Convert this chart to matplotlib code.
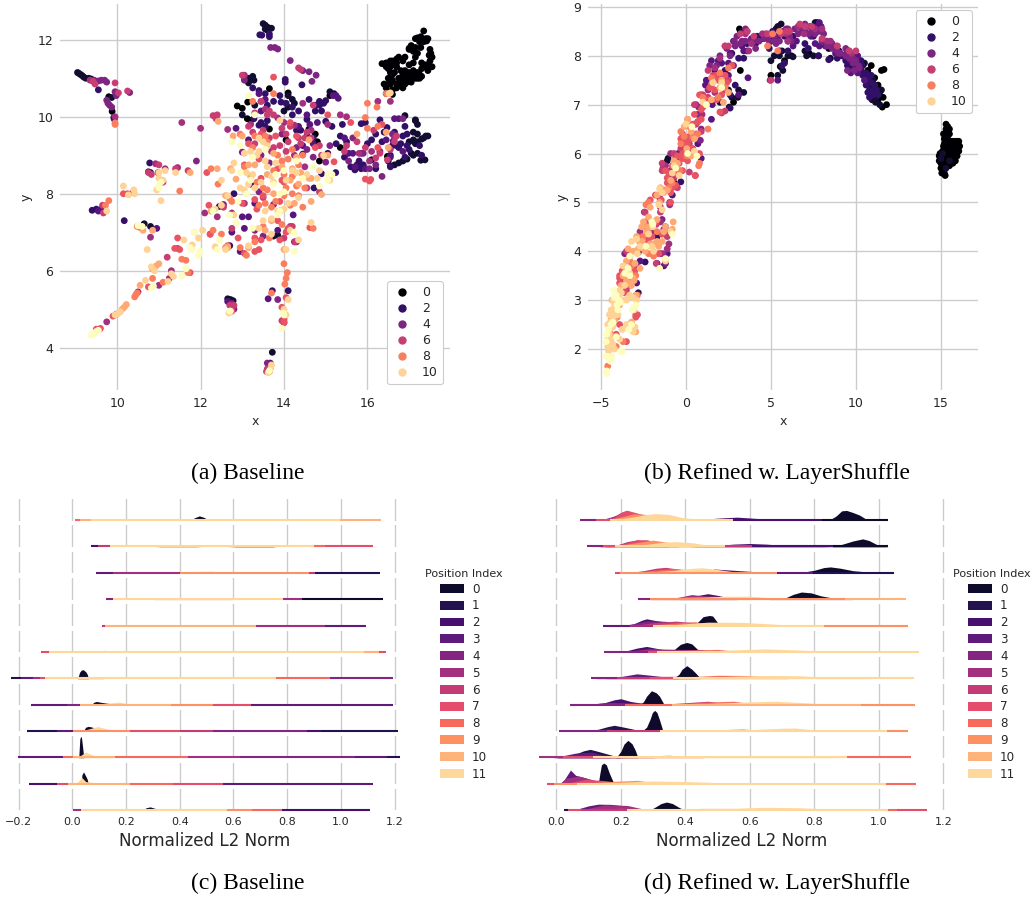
import matplotlib
matplotlib.use("Agg")
import matplotlib.pyplot as plt
from matplotlib.lines import Line2D
from matplotlib.patches import Patch

# ---------- (a) baseline scatter, points by position index ----------
a_h0 = [(17.35,12.23),(17.3,12.0),(17.4,12.03),(17.45,12.03),(17.15,12.03),(17.25,11.95),(17.35,11.95),(17.05,11.85),(17.0,11.78),(17.15,11.8),(17.28,11.8),(17.5,11.75),(17.52,11.65),(17.55,11.55),(17.5,11.45),(17.45,11.3),(17.35,11.3),(17.3,11.25),(17.2,11.15),(17.15,11.1),(17.1,11.05),(17.05,11.0),(17.0,10.95),(16.95,10.9),(16.9,10.85),(16.85,10.75),(16.6,11.45),(16.7,11.5),(16.75,11.55),(16.9,11.55),(16.45,11.4),(16.35,11.38),(16.5,11.35),(16.5,11.25),(16.55,11.15),(16.6,11.1),(16.7,11.3),(16.8,11.2),(17.0,11.35),(17.1,11.4),(16.85,11.1),(16.75,11.0),(16.6,10.95),(16.5,10.85),(16.45,10.75),(16.6,10.7),(16.7,10.85),(17.0,11.15),(17.3,11.05),(17.2,11.0),(16.85,11.0),(16.9,11.2),(17.45,11.2),(17.25,11.1),(16.6,10.58),
        (9.8,10.52),(9.88,10.14),(15.1,10.55),(14.1,10.62),(13.65,10.73),(13.13,10.38),(12.88,10.28),(13.0,10.22),(13.12,9.95),(13.2,9.9),(13.65,9.68),(14.05,9.4),(14.6,9.68),(14.55,9.5),(14.8,9.35),(14.75,9.55),(15.35,9.2),(16.1,8.88),(16.48,8.97),(17.15,9.9),(14.85,8.85),
        (17.2,12.05),(17.28,12.08),(17.42,11.97),(17.48,11.6),(17.55,11.3),(17.4,11.35),(17.3,11.4),(17.25,11.0),(17.0,11.05),(16.95,11.0),(17.15,11.0),(17.05,10.9),(16.95,11.1),(16.8,10.95),(16.7,10.75),(16.65,11.15),(16.6,11.35),(16.55,11.45),(16.55,11.3),(16.45,11.3),(16.7,11.4),(16.85,11.45),(16.5,11.0),(16.55,10.85),(16.4,10.85),(16.75,10.85),(16.9,10.95),(17.1,11.2),(17.15,11.55),(17.0,11.75),(17.1,11.7),(17.2,11.65)]
a_h1 = [(9.05,11.15),(9.08,11.13),(9.12,11.1),(9.16,11.07),(9.2,11.03),(9.25,11.0),(9.32,11.0),(9.38,10.98),(9.87,10.5),(13.5,12.42),(13.55,12.38),(13.6,12.33),(13.65,12.3),(13.7,12.3),(13.55,12.28),(13.6,12.25),(13.25,11.05),(13.15,11.0),(13.1,10.95),(13.15,10.88),(13.28,10.95),(14.1,10.55),(14.2,10.45),(14.25,10.35),(14.1,10.25),(14.0,10.15),(13.3,10.3),(13.0,10.05),(16.9,10.03),(17.2,9.8),(17.15,9.92),(17.4,9.5),(17.35,9.45),(17.3,9.42),(17.45,9.5),(17.2,9.35),(17.1,9.4),(17.0,9.35),(17.15,9.3),(17.2,9.55),(17.1,9.6),(17.28,8.87),(17.38,8.88),(17.2,9.05),(17.1,9.0),(17.05,9.05),(16.95,8.9),(16.85,8.85),(16.75,8.8),(16.65,8.75),(16.55,8.72),(16.5,8.85),(13.75,6.9),(13.85,6.92),(12.65,5.27),(12.72,5.25),(12.78,5.22),(13.72,3.88),(10.65,7.22),(10.8,7.15),(15.1,10.65),(15.2,10.6)]
a_h2 = [(9.55,10.7),(9.92,9.98),(9.93,9.94),(13.42,12.13),(13.47,12.12),(13.65,12.15),(13.65,12.08),(14.43,10.83),(14.03,10.97),(14.03,10.9),(13.25,10.75),(13.4,10.68),(13.55,10.6),(13.75,10.4),(13.6,10.3),(13.93,10.38),(14.2,10.25),(14.35,10.15),(13.28,9.95),(13.4,9.78),(13.55,9.75),(14.3,9.65),(14.55,9.93),(14.85,10.3),(15.0,10.42),(14.95,10.35),(14.6,10.45),(14.75,10.3),(14.9,10.15),(15.0,9.88),(15.35,9.5),(15.25,9.3),(15.05,9.05),(15.95,9.85),(15.85,9.82),(16.3,9.92),(16.47,9.72),(16.6,9.25),(16.55,9.0),(16.7,9.25),(16.9,9.75),(16.55,8.7),(15.75,8.75),(15.7,8.62),(15.6,8.7),(15.24,8.55),(14.45,9.03),(14.9,8.52),(14.72,8.15),(13.2,8.25),(12.8,8.0),(12.45,7.67),(10.78,8.8),(10.75,8.57),(10.8,8.55),(10.17,7.3),(12.7,6.65),(9.4,7.57),(9.5,7.6),(13.72,5.48),(14.1,5.48),(16.2,8.65),(16.4,9.6),
        (13.9,10.55),(14.05,10.35),(14.2,10.05),(14.75,10.15),(14.85,10.4),(14.4,9.65),(14.7,9.45),(15.15,9.75),(15.5,9.35),(15.4,9.8),(13.45,9.85),(13.6,9.9),(16.95,9.25),(16.8,9.3),(16.85,9.5),(16.95,9.55),
        (16.65,9.6),(16.75,9.2),(16.9,8.95),(17.0,9.15),(17.25,9.25),(17.3,9.0),(16.35,9.35),(16.2,9.55),(16.0,9.3),(16.1,9.4),(15.8,8.85),(15.85,8.65),(15.9,8.75),(15.45,8.95)]
a_h3 = [(13.05,10.98),(15.25,10.55),(15.3,10.48),(15.18,10.55),(14.55,10.05),(14.62,9.8),(14.8,9.85),(13.4,10.6),(13.55,10.45),(13.45,10.15),(13.42,9.45),(13.15,9.4),(12.85,9.7),(14.35,9.75),(14.7,9.3),(14.45,9.25),(15.45,9.45),(15.55,9.05),(15.65,9.05),(15.85,9.05),(16.45,9.4),(16.62,9.37),(16.85,9.1),(15.7,8.7),(15.95,8.65),(16.55,8.95),(10.95,7.1),(12.95,6.5),(13.0,7.4),(13.15,7.4),(13.05,7.1),(13.3,7.75),(12.75,7.0),(12.65,5.2),(12.78,5.05),(9.62,7.6),(9.55,7.55),(13.67,3.6),(13.62,5.27),(14.22,7.45),(14.3,6.75),(13.85,7.05),(16.75,9.95),(16.65,9.95)]
a_h4 = [(9.45,10.95),(9.55,10.93),(9.62,10.95),(9.7,10.95),(9.75,10.9),(10.3,10.63),(9.75,10.43),(9.78,10.35),(9.82,10.3),(9.87,10.25),(9.95,10.65),(9.98,10.55),(13.68,11.8),(13.78,11.8),(13.85,11.76),(14.15,11.46),(14.45,11.2),(14.6,11.17),(14.77,11.08),(14.67,10.92),(13.05,10.95),(13.45,9.0),(13.0,9.08),(13.95,9.55),(13.65,8.8),(14.3,9.2),(14.55,9.15),(14.7,8.95),(15.0,8.82),(15.55,8.85),(16.05,8.65),(11.9,8.85),(12.55,7.72),(13.3,7.05),(13.5,6.9),(13.85,5.25),(14.0,4.65),(13.6,3.6),(16.35,8.45),(15.9,9.05),(15.1,9.25),(15.65,9.45),(13.4,8.05),(12.8,5.0),(12.75,5.15),(13.75,7.72),(14.25,6.75),(16.3,9.1),(16.85,9.95),(16.6,9.55),(16.2,8.75)]
a_h5 = [(9.35,10.95),(9.95,10.0),(13.05,11.08),(13.45,10.4),(13.55,10.2),(13.85,9.97),(14.0,9.85),(14.25,9.78),(14.45,10.35),(14.65,9.65),(14.25,9.0),(14.5,8.7),(13.7,9.1),(13.2,9.8),(15.05,9.8),(15.35,10.05),(15.5,10.0),(16.25,10.4),(16.45,10.6),(16.55,10.4),(16.65,9.45),(15.8,9.05),(16.1,9.1),(16.05,8.85),(12.4,7.4),(12.75,7.5),(14.15,7.15),(12.1,7.5),(11.0,5.62),(11.25,5.8),(11.3,6.0),(10.5,5.45),(9.75,4.67),(11.55,9.85),(12.0,9.7),(12.65,9.67),(10.92,8.78),(10.98,8.55),(11.15,8.65),(11.45,8.68),(10.8,6.87),(13.05,7.75)]
a_h6 = [(9.95,10.88),(9.42,10.92),(9.47,10.85),(10.03,10.62),(10.25,10.67),(14.35,11.27),(14.4,11.23),(13.0,11.08),(12.3,10.03),(12.4,10.05),(12.37,9.95),(13.45,10.4),(13.3,10.1),(13.65,10.15),(13.75,10.05),(14.15,9.75),(14.7,10.3),(14.55,9.6),(14.1,9.35),(14.4,9.3),(13.95,9.7),(13.65,9.45),(13.3,9.3),(13.75,9.2),(14.05,9.1),(15.45,9.1),(15.75,9.35),(16.2,8.93),(16.15,9.65),(16.65,9.35),(16.7,9.5),(11.4,8.65),(11.7,8.6),(10.75,8.55),(10.82,8.5),(11.0,8.75),(11.1,8.3),(10.38,8.03),(12.55,7.65),(12.75,7.1),(13.5,7.9),(13.9,7.55),(14.2,7.15),(14.0,6.85),(14.27,6.75),(12.23,6.95),(11.2,6.35),(11.45,6.58),(9.67,7.5),(9.65,7.7),(14.0,4.75),(13.95,4.7),(12.8,5.1),(12.7,5.1),(13.6,3.45),(13.58,3.38),(16.48,8.88),(14.55,8.15),(14.85,8.05),
        (13.15,9.75),(13.6,10.05),(14.05,9.55),(14.35,9.45),(14.5,9.45),(14.65,9.45),(14.85,9.25),(14.9,9.0),(15.5,9.25),(15.95,9.2),(16.3,9.05),(16.55,9.15),(13.9,9.25),(13.5,9.65),(13.25,9.6)]
a_h7 = [(13.75,11.03),(15.05,10.05),(14.15,9.85),(13.8,9.5),(14.3,9.5),(13.45,9.55),(13.15,9.3),(15.6,9.85),(16.25,9.2),(15.2,8.83),(15.95,8.38),(16.05,8.33),(16.08,8.37),(12.15,8.55),(11.38,6.58),(11.5,6.55),(11.45,6.85),(13.4,8.9),(13.05,8.75),(13.85,8.65),(13.95,8.35),(14.0,8.3),(13.45,8.4),(13.5,7.95),(13.9,7.8),(13.85,7.3),(14.1,7.1),(13.3,7.85),(13.0,7.75),(13.35,7.6),(12.2,7.7),(12.23,6.95),(12.65,6.65),(12.9,6.85),(13.3,6.85),(13.45,6.8),(13.9,6.8),(14.05,7.0),(13.05,6.45),(13.3,6.5),(13.4,6.55),(10.15,8.0),(10.25,8.0),(9.5,4.48),(9.56,4.47),(9.6,4.5),(9.9,4.82),(9.98,4.87),(10.75,5.58),(11.75,5.95),(13.95,5.05),(14.0,4.65),(14.0,4.7),(14.05,5.3),(12.75,4.95),(14.62,7.12),(16.35,9.8),(14.75,9.2),(13.65,3.38)]
a_h8 = [(9.95,9.84),(9.95,9.8),(13.75,10.6),(16.0,10.35),(16.45,10.6),(16.23,10.25),(15.95,9.98),(16.0,9.7),(16.25,9.75),(13.25,10.4),(12.95,9.55),(13.3,9.5),(13.55,9.5),(14.2,9.15),(14.45,9.0),(13.05,8.7),(12.25,8.65),(12.42,8.25),(12.7,7.88),(12.75,7.8),(11.5,8.07),(10.48,7.15),(10.55,7.12),(14.45,7.65),(14.7,7.1),(13.5,8.15),(13.8,7.8),(14.15,7.7),(14.2,8.0),(14.35,7.95),(14.05,8.15),(13.1,6.4),(12.6,6.6),(12.65,6.6),(9.72,7.7),(9.8,7.82),(10.42,5.32),(10.45,5.38),(10.48,5.42),(10.85,5.8),(11.1,5.7),(11.55,6.3),(11.65,6.27),(11.7,5.95),(14.0,6.18),(14.08,5.95),(14.05,5.8),(14.02,5.65),(13.7,5.42),(14.2,8.45),(14.0,8.5),(13.75,8.6),(13.35,8.3),(13.55,7.75),
        (13.25,9.2),(13.6,9.35),(13.85,9.0),(14.1,8.9),(14.35,8.75),(14.5,8.15),(13.95,8.85),(13.6,8.1),(13.4,7.7),(13.7,7.65),(13.95,7.2),(13.5,7.15),(13.65,6.85),(13.3,6.75),(12.95,6.6),(12.5,6.95),(12.3,7.05),(14.3,8.2),(14.0,7.95)]
a_h9 = [(12.42,9.88),(12.78,9.5),(13.0,9.5),(13.15,8.75),(13.3,8.75),(14.6,9.4),(14.3,8.95),(13.75,9.05),(14.2,8.65),(14.4,8.55),(14.6,8.4),(14.9,7.98),(13.6,8.5),(12.85,8.38),(12.72,8.65),(12.4,8.65),(11.75,8.55),(12.6,7.95),(12.25,7.55),(14.25,7.75),(14.65,7.8),(14.0,6.55),(13.15,6.6),(12.65,6.62),(13.7,7.3),(13.55,7.05),(13.2,8.45),(10.12,5.0),(10.17,5.05),(10.22,5.12),(10.55,5.62),(10.84,6.05),(10.93,6.12),(11.0,6.18),(10.62,7.05),(10.85,7.05),(13.75,8.0),(13.95,8.7),(14.15,8.35),(16.45,9.6),(16.5,9.2),(15.75,9.55),(15.05,9.0),(14.65,8.4),(14.35,8.25)]
a_h10 = [(16.52,10.6),(16.55,10.62),(13.9,9.9),(13.4,9.45),(13.5,9.35),(13.6,9.25),(13.2,9.1),(13.05,9.05),(13.35,9.0),(13.6,8.7),(13.75,8.3),(14.05,8.35),(13.45,8.3),(13.1,8.55),(13.25,8.5),(12.75,8.6),(12.8,8.8),(12.5,8.35),(11.05,7.82),(10.15,8.2),(10.4,8.1),(10.42,8.0),(10.27,7.97),(9.75,7.55),(10.72,6.55),(11.0,8.55),(11.0,8.4),(11.15,8.6),(11.4,8.55),(12.35,7.6),(12.65,7.95),(12.8,7.45),(13.05,8.1),(13.55,7.55),(13.7,7.35),(13.85,7.55),(14.1,7.75),(14.15,7.05),(14.35,6.8),(14.05,6.55),(13.15,6.65),(12.6,6.55),(12.35,6.62),(11.95,6.85),(12.05,7.05),(11.85,7.0),(11.6,6.8),(11.8,6.67),(10.68,5.75),(10.82,6.1),(10.9,6.0),(11.22,5.72),(11.3,5.92),(11.35,5.85),(10.02,4.88),(10.08,4.93),(9.95,4.85),(14.1,5.25),(14.0,5.0),(14.05,4.85),(13.7,3.55),(13.62,3.35),(13.68,3.45),(12.72,4.95),(12.68,4.9),(14.65,7.25),(14.8,8.4),(15.1,8.35),(14.2,8.6),(14.95,9.0),
         (13.4,9.1),(13.55,8.85),(13.8,8.8),(13.15,8.25),(13.3,8.15),(14.0,7.6),(13.5,7.3),(13.4,7.1),(13.7,6.95),(14.3,8.55),(14.55,8.5),(14.85,8.6),(13.7,8.45),(12.95,8.15),(12.5,7.7),(14.35,7.9),(11.1,8.35),(10.95,8.1)]
a_h11 = [(9.38,4.32),(9.42,4.35),(9.46,4.38),(9.5,4.42),(9.55,4.45),(13.15,10.55),(13.3,10.05),(12.75,9.35),(12.95,9.25),(13.25,8.95),(13.55,9.15),(14.3,8.85),(14.7,8.7),(14.0,8.6),(13.8,8.5),(13.75,8.25),(14.0,8.05),(13.9,8.0),(13.2,8.35),(12.95,8.55),(14.45,8.4),(15.05,8.5),(15.15,8.5),(15.05,8.35),(11.0,8.2),(11.05,8.3),(11.0,8.15),(10.5,7.17),(10.6,7.15),(12.7,7.45),(12.3,7.55),(12.85,7.25),(12.9,7.8),(13.1,8.0),(11.85,7.0),(12.0,6.5),(11.95,6.4),(11.8,6.55),(12.4,6.55),(12.45,6.8),(13.25,7.1),(13.85,7.45),(13.9,7.55),(14.25,7.0),(14.25,6.5),(10.82,5.55),(10.87,5.6),(11.55,5.87),(11.65,6.05),(11.75,6.6),(13.95,4.5),(14.0,4.85),(13.98,4.9),(13.65,3.4),(12.7,4.95),(14.85,8.2)]

# ---------- (b) refined scatter, points by position index ----------
b_h0 = [(15.3,6.6),(15.4,6.55),(15.5,6.5),(15.25,6.4),(15.3,6.3),(15.2,6.2),(15.2,6.1),(15.15,6.0),(15.1,5.9),(15.0,5.9),(15.0,5.8),(15.05,5.7),(15.1,5.6),(15.2,5.6),(15.25,5.7),(15.3,5.8),(15.4,5.9),(15.5,6.0),(15.7,6.2),(15.8,6.25),(15.9,6.2),(16.0,6.2),(15.95,6.1),(15.9,6.0),(15.7,5.9),(15.6,5.85),(15.35,6.0),(15.25,5.95),(15.4,6.3),(15.5,6.4),(15.6,6.15),(15.15,6.4),(15.3,6.15),(15.1,5.75),(14.95,6.0),(15.25,5.55),(15.8,6.05),
        (15.35,6.45),(15.45,6.45),(15.3,6.5),(15.35,6.2),(15.25,6.25),(15.2,6.3),(15.15,6.15),(15.1,6.05),(15.05,5.95),(15.1,5.8),(15.15,5.7),(15.2,5.75),(15.15,5.85),(15.25,5.85),(15.35,5.9),(15.45,5.95),(15.55,6.05),(15.6,6.1),(15.65,6.25),(15.75,6.15),(15.85,6.1),(15.95,6.25),(16.0,6.1),(15.8,5.95),(15.75,6.0),(15.65,5.95),(15.5,5.9),(15.4,6.05),(15.3,6.05),(15.2,5.95),(15.15,5.65),(15.0,5.7),(15.05,5.6),
        (16.05,6.25),(16.1,6.15),(16.05,6.05),(15.95,5.95),(15.85,5.85),(15.7,5.8),(15.5,5.75),(14.9,5.85),(14.9,5.95),
        (3.15,8.55),(3.2,8.5),(5.0,8.3),(2.8,7.05),(3.2,7.7),(5.0,7.6),(5.55,7.78),(5.8,7.9),(6.2,8.0),(7.2,8.03),(7.25,8.05),(8.4,8.15),(9.2,8.0),(9.4,8.0),(10.2,7.9),(10.4,7.8),(10.7,7.7),(11.5,7.7),(11.65,7.72),(10.9,7.8),(11.1,7.55),(11.3,7.4),(11.6,7.15),(11.8,7.0),(11.55,6.95),(11.3,7.1),(-1.0,4.36),(-0.7,5.4)]
b_h1 = [(3.3,8.5),(4.3,8.35),(4.5,8.35),(5.3,8.55),(5.4,8.6),(5.6,8.65),(7.6,8.68),(7.7,8.68),(5.2,8.0),(5.5,8.0),(5.65,8.1),(6.0,8.0),(6.3,7.98),(5.0,7.9),(5.7,7.7),(5.4,7.6),(7.0,8.1),(7.1,8.0),(7.5,8.0),(7.8,8.0),(8.5,7.95),(9.0,8.1),(9.3,8.0),(9.8,8.05),(9.95,8.0),(10.1,7.7),(10.5,7.85),(10.8,7.4),(11.0,7.3),(11.1,7.2),(11.2,7.15),(11.4,7.25),(11.5,7.3),(11.15,7.05),(10.8,7.6),(11.0,7.5),(10.95,7.1),(11.4,7.0),(2.5,7.3),(2.7,7.15),(3.05,7.15),(3.4,7.25),(3.1,7.3),(2.0,7.05),(2.55,6.95),(-1.05,5.9),(-1.1,5.85),(15.0,5.9),(15.1,6.0),(15.5,5.85),(15.3,5.7)]
b_h2 = [(2.8,8.3),(1.7,7.7),(2.7,8.05),(2.3,7.7),(3.1,7.95),(3.4,7.95),(3.6,8.25),(4.1,8.25),(4.2,8.4),(5.1,8.5),(5.8,8.4),(6.3,8.4),(6.0,8.3),(7.5,8.4),(8.0,8.5),(8.2,8.3),(7.8,8.0),(7.2,8.15),(7.0,8.25),(6.0,8.1),(5.5,8.1),(5.8,7.85),(5.65,7.8),(4.9,8.15),(9.5,7.8),(9.7,7.75),(10.0,7.8),(10.35,7.8),(10.7,7.25),(10.8,7.15),(11.1,7.4),(10.9,7.6),(10.6,7.5),(2.3,7.5),(2.6,7.2),(2.9,7.4),(2.6,6.93),(1.75,7.65),(1.5,7.05),(-0.3,5.42),(-2.8,3.15),(-2.8,3.98),(-2.4,3.78),(-1.7,4.3),(8.4,7.92),
        (10.4,7.6),(10.6,7.4),(10.8,7.3),(10.9,7.45),(11.0,7.2),(11.2,7.3),(11.3,7.2),(11.1,7.3),(10.7,7.55),(10.6,7.65),(10.3,7.7),(9.2,8.0),(8.9,7.95),(8.9,8.1),(9.4,7.9),(9.6,7.9),(10.3,7.9),(10.2,7.85)]
b_h3 = [(3.3,8.2),(3.4,8.1),(2.6,8.05),(2.5,7.85),(2.1,7.85),(1.9,7.9),(1.5,7.9),(1.2,7.5),(1.15,7.4),(0.9,7.2),(1.55,7.0),(1.1,7.05),(2.5,7.6),(3.65,7.55),(3.1,7.2),(3.6,8.1),(3.85,8.35),(4.6,8.4),(5.4,8.4),(6.5,8.3),(7.35,8.4),(7.85,8.68),(7.7,8.6),(7.95,8.6),(8.2,8.2),(8.7,8.2),(8.8,8.05),(9.5,8.1),(9.7,7.9),(10.1,8.0),(9.7,7.65),(10.1,7.65),(10.5,7.5),(6.3,8.2),(5.4,7.5),(7.6,8.25),(7.85,8.2),(-1.7,3.75),(-1.3,3.7),(-1.1,3.95),(-2.7,3.8),(-2.9,3.35),(-0.45,6.0),(1.5,6.7),(0.7,6.2),(0.9,5.9),(-0.8,5.15)]
b_h4 = [(3.5,8.55),(2.85,8.3),(1.4,7.8),(1.8,7.8),(2.4,8.15),(2.0,8.0),(3.0,8.4),(3.3,8.3),(3.6,8.5),(4.1,8.15),(4.8,8.4),(5.2,8.3),(5.3,8.25),(6.0,8.55),(6.4,8.55),(6.8,8.55),(7.0,8.65),(7.4,8.55),(7.6,8.45),(8.1,8.45),(8.6,8.25),(9.0,8.05),(9.4,8.15),(9.8,7.95),(10.15,7.8),(9.5,7.7),(9.85,7.85),(5.9,8.55),(4.95,7.5),(1.0,6.97),(0.75,6.95),(1.1,7.0),(2.0,7.55),(2.8,7.8),(0.9,6.5),(0.7,6.8),(0.85,6.27),(-0.8,5.55),(-1.3,5.7),(-1.0,5.5),(-0.55,5.85),(-1.9,4.4),(-1.5,3.95),(-1.2,3.75),(-3.6,3.95),(-3.4,3.4),(-1.4,4.65),(-1.2,4.5),(-0.95,5.0),(7.3,8.6),
        (2.6,8.0),(2.9,8.2),(3.2,8.25),(3.5,8.3),(3.8,8.3),(4.0,8.3),(4.3,8.3),(4.6,8.35),(4.9,8.3),(5.2,8.4),(5.5,8.3),(5.7,8.5),(6.1,8.4),(6.2,8.3),(6.6,8.45),(7.0,8.5),(7.2,8.45),(7.5,8.5),(7.8,8.5),(8.0,8.3),(8.3,8.2),(8.6,8.15),(8.9,8.1),(9.1,8.05),(9.4,8.0),(9.6,7.95),(10.0,7.9),(10.2,7.75),(9.9,7.7)]
b_h5 = [(2.3,8.2),(1.7,7.75),(2.0,7.95),(1.3,7.3),(1.7,7.25),(3.5,8.45),(3.7,8.1),(3.85,8.25),(4.5,8.45),(4.7,8.45),(5.9,8.45),(6.0,8.3),(6.6,8.6),(7.1,8.6),(6.95,8.45),(8.0,8.55),(8.3,8.3),(8.5,8.3),(8.9,8.2),(9.6,8.1),(9.75,8.05),(7.6,8.55),(0.6,7.0),(0.7,6.65),(0.95,6.8),(0.5,6.6),(-0.9,6.0),(-1.2,5.75),(-0.6,5.9),(-1.35,5.7),(-0.1,5.9),(-0.9,5.65),(0.2,6.3),(-1.55,5.1),(-1.5,4.9),(-1.5,4.6),(-1.3,4.45),(-2.45,4.8),(-2.3,4.55),(-2.7,4.4),(-2.9,3.7),(-3.6,3.35),(-1.35,3.95),(-1.0,4.15),(-1.1,4.05),(-0.95,4.95)]
b_h6 = [(2.3,8.2),(2.5,8.2),(3.2,8.45),(3.6,8.5),(4.0,8.4),(4.8,8.45),(5.6,8.45),(5.9,8.5),(6.1,8.5),(7.0,8.6),(7.4,8.6),(6.7,8.65),(8.0,8.35),(8.9,8.2),(9.6,8.1),(10.0,8.1),(1.3,7.7),(1.6,7.6),(2.1,7.55),(2.5,7.5),(2.3,7.3),(1.3,7.15),(1.0,7.2),(2.1,6.83),(2.3,6.87),(0.5,7.0),(0.6,6.6),(0.2,6.2),(-0.3,6.1),(-0.7,6.0),(0.4,6.1),(0.2,5.62),(0.55,5.55),(-0.5,5.3),(-0.7,5.5),(-1.4,5.65),(-1.4,5.8),(-1.6,5.15),(-1.5,4.8),(-2.4,4.8),(-1.75,4.55),(-1.1,4.3),(-2.3,4.3),(-3.5,4.0),(-1.75,3.75),(-3.7,3.4),(-3.5,3.2),(5.0,7.5),(0.9,6.45)]
b_h7 = [(2.3,7.6),(1.8,7.6),(2.7,7.8),(1.4,7.35),(0.8,7.2),(1.0,6.95),(2.0,6.85),(0.7,6.65),(0.2,6.35),(-0.1,6.2),(0.1,6.05),(0.3,6.1),(0.8,6.0),(-0.5,5.95),(-1.2,5.65),(-0.7,5.75),(-0.2,5.65),(0.55,5.55),(-0.6,5.35),(-0.9,5.0),(-1.45,5.05),(-1.8,5.15),(-2.1,5.05),(-1.75,4.6),(-2.4,4.6),(-1.4,4.35),(-2.0,4.3),(-2.6,4.3),(-2.2,4.2),(-1.6,3.95),(-3.3,3.9),(-3.75,3.6),(-3.9,3.45),(-3.0,3.6),(-3.3,3.3),(-3.6,3.15),(-3.9,3.5),(-3.9,3.35),(-4.2,2.8),(-3.9,2.5),(-3.1,2.45),(-2.95,2.7),(-2.85,2.7),(-3.5,2.15),(-4.4,2.05),(-4.1,2.3),(-2.95,2.65),
        (1.5,7.4),(1.7,7.3),(1.9,7.5),(2.2,7.4),(2.4,7.45),(2.1,7.2),(1.8,7.1),(1.3,7.1),(0.9,6.9),(0.9,6.7),(0.5,6.8),(0.6,6.4),(0.3,6.3),(0.0,6.3),(-0.2,6.4),(-0.3,6.3),(0.4,6.6),(0.1,6.2),(-0.2,6.0),(0.1,5.85),(-0.4,5.8),(-0.2,5.9),(-0.6,5.6),(-0.8,5.75),(-1.0,5.6),(-1.1,5.5),(-1.1,5.4),(-0.8,5.3),(-0.9,5.2)]
b_h8 = [(4.8,8.2),(5.4,8.1),(5.1,8.45),(5.5,8.5),(2.5,7.75),(1.5,7.55),(1.55,7.45),(2.0,7.65),(2.3,7.35),(1.9,7.15),(1.0,7.15),(0.1,6.7),(-0.3,6.45),(-0.1,6.35),(0.2,6.55),(0.4,6.35),(0.7,6.4),(-0.3,6.2),(0.05,5.95),(0.8,5.8),(0.75,5.75),(1.3,6.5),(-0.35,5.65),(-0.8,5.4),(-1.0,5.3),(-1.25,5.25),(-2.2,5.0),(-2.35,4.95),(-1.7,4.4),(-2.4,4.5),(-2.5,4.3),(-2.2,4.4),(-2.2,3.95),(-2.0,3.95),(-1.9,3.9),(-3.4,3.6),(-3.3,3.8),(-2.95,3.5),(-3.2,3.7),(-2.85,3.1),(-4.2,2.75),(-4.3,2.6),(-4.05,2.65),(-3.35,2.45),(-3.7,2.15),(-4.6,1.65),(-4.1,2.05),(-4.4,2.3)]
b_h9 = [(2.1,7.5),(2.0,7.35),(1.5,7.1),(2.2,7.05),(2.5,7.25),(0.5,6.3),(-0.1,6.55),(0.1,6.7),(0.3,6.45),(0.3,5.95),(0.05,6.1),(-0.5,5.8),(-0.7,5.85),(-0.9,5.45),(-1.1,5.25),(-0.75,4.6),(-1.55,5.0),(-1.7,4.65),(-2.2,4.5),(-2.6,4.5),(-2.3,4.1),(-1.9,4.15),(-3.4,4.05),(-3.5,3.8),(-2.9,4.3),(-2.75,4.2),(-3.35,3.35),(-3.05,3.4),(-2.95,2.35),(-4.4,2.6),(-4.5,2.4),(-4.2,2.6),(-4.35,3.0),(-3.2,2.55),(-3.9,2.9),(-2.95,3.1),(-0.8,4.45),(-1.2,4.5),
        (-1.3,5.2),(-1.5,5.3),(-1.7,5.15),(-2.1,4.9),(-2.2,4.7),(-2.0,4.5),(-1.9,4.6),(-2.5,4.6),(-2.3,4.4),(-2.6,4.2),(-2.4,4.0),(-2.1,4.15),(-1.7,4.2),(-1.6,4.1),(-1.4,4.2),(-1.3,4.4),(-2.8,4.05),(-3.1,4.0),(-3.0,3.75),(-2.7,3.65),(-3.5,3.6),(-3.7,3.5),(-3.1,3.45),(-3.2,3.3),(-3.5,3.4),(-3.8,3.3)]
b_h10 = [(2.1,7.45),(1.2,7.0),(1.0,7.05),(1.6,7.45),(0.0,6.6),(0.5,6.05),(-0.7,5.75),(-0.4,5.55),(-0.8,5.6),(-1.55,5.28),(-1.4,5.2),(-1.6,4.95),(-1.4,4.85),(-0.9,4.4),(-1.2,3.8),(-2.0,4.1),(-1.9,4.0),(-2.2,4.35),(-2.9,4.25),(-2.7,4.1),(-3.2,4.2),(-2.85,3.95),(-3.7,3.7),(-3.3,3.55),(-4.1,2.85),(-3.95,3.05),(-4.3,2.65),(-3.8,3.15),(-4.45,2.55),(-4.3,2.45),(-3.25,2.5),(-3.05,2.8),(-4.6,2.2),(-3.6,3.3),(-3.1,3.05),(-2.9,3.0),(-1.95,4.5),
         (-4.3,3.0),(-4.2,2.9),(-4.4,2.8),(-4.3,2.75),(-4.15,2.7),(-4.0,2.7),(-4.5,2.7),(-4.6,2.5),(-4.5,2.3),(-4.4,2.2),(-4.5,2.05),(-4.3,2.1),(-4.2,2.0),(-4.6,2.05),(-4.55,1.95),(-3.9,2.2),(-3.75,2.4),(-3.5,2.5),(-3.1,2.35),(-3.0,2.45),(-3.9,3.2),(-3.7,3.0),(-3.5,3.0),(-3.4,3.05),(-3.3,3.1)]
b_h11 = [(-4.65,1.5),(-4.65,1.55),(-4.7,1.85),(-4.6,1.85),(-4.5,1.8),(-4.45,1.75),(-4.35,1.85),(-3.75,1.95),(-3.85,1.95),(-4.7,2.15),(-4.65,2.3),(-4.55,2.4),(-4.4,2.5),(-4.3,2.55),(-4.1,2.25),(-3.35,2.4),(-3.2,2.5),(-3.05,2.85),(-2.95,2.9),(-3.15,2.8),(-4.25,3.2),(-4.1,3.1),(-3.95,3.0),(-4.2,3.05),(-4.05,2.9),(-3.85,2.95),(-4.0,2.8),(-3.6,3.55),(-3.3,3.5),(-3.4,3.65),(-3.3,3.9),(-1.55,3.65),(-1.2,3.85),(-0.8,4.35),(0.65,5.95),(0.1,6.0),(-0.6,5.7),(0.35,6.55),(1.2,7.0),(2.1,7.35),(-2.0,4.6),(-2.35,4.1),(-1.95,4.55)]

# ---------- (c) baseline ridges ----------
c_breaks = [
    [0.01,0.03,0.068,0.998,1.149],
    [0.07,0.097,0.14,0.90,0.94,1.12],
    [0.09,0.153,0.40,0.69,0.88,0.905,1.145],
    [0.125,0.153,0.786,0.855,1.157],
    [0.11,0.123,0.684,0.94,1.092],
    [-0.115,-0.085,1.087,1.143,1.169],
    [-0.228,-0.19,-0.145,-0.12,-0.103,0.759,0.958,1.194],
    [-0.154,-0.02,0.029,0.366,0.522,0.665,1.194],
    [-0.17,-0.058,0.004,0.215,0.40,0.525,0.873,0.925,1.211],
    [-0.201,-0.034,0.004,0.16,0.432,0.625,1.053,1.17,1.219],
    [-0.16,-0.058,-0.015,0.215,0.376,0.56,1.119],
    [0.004,0.031,0.575,0.668,0.78,1.109],
]
c_hues = [
    [8,10,11,10],
    [2,6,11,8,7],
    [3,5,9,9,6,1],
    [4,11,5,0],
    [6,10,5,3],
    [7,11,10,7],
    [1,3,5,7,11,8,4],
    [3,4,10,9,7,3],
    [1,3,9,7,6,4,2,1],
    [3,8,10,8,5,4,3,1],
    [2,7,10,8,7,3],
    [5,11,9,8,2],
]
c_row0 = [(5,[0.18,0.3,0.45],[0,0.05,0]),(0,[0.44,0.455,0.473,0.49,0.51],[0,0.13,0.22,0.15,0]),(6,[0.55,0.6,0.67],[0,0.06,0]),(11,[0.07,0.3,0.67,1.0],[0,0.02,0.02,0])]
c_row1 = [(3,[0.58,0.7,0.76],[0,0.07,0]),(7,[0.31,0.4,0.48],[0,0.08,0])]
c_row2 = [(11,[0.3,0.45,0.52,0.6],[0,0.08,0.1,0])]
c_row3 = [(6,[0.3,0.42,0.5,0.6],[0,0.05,0.05,0]),(11,[0.33,0.45,0.64],[0,0.03,0])]
c_row4 = [(4,[0.28,0.4,0.48],[0,0.06,0]),(11,[0.3,0.4,0.5],[0,0.03,0])]
c_row5 = [(3,[0.0,0.12,0.2],[0,0.09,0]),(11,[0.08,0.25,0.4],[0,0.04,0])]
c_row6 = [(0,[0.02,0.027,0.033,0.04,0.05,0.056,0.06],[0,0.3,0.4,0.43,0.33,0.2,0]),(7,[0.02,0.06,0.12],[0,0.08,0])]
c_row7 = [(0,[0.07,0.08,0.09,0.11,0.14,0.16],[0,0.13,0.17,0.12,0.07,0]),(11,[0.03,0.1,0.15,0.175,0.2,0.22],[0,0.05,0.11,0.14,0.08,0])]
c_row8 = [(0,[0.04,0.05,0.06,0.075,0.09],[0,0.2,0.24,0.2,0]),(3,[0.09,0.15,0.2],[0,0.06,0]),(11,[0.0,0.05,0.08,0.095,0.11,0.14,0.2],[0,0.08,0.18,0.23,0.18,0.08,0])]
c_row9 = [(0,[0.024,0.028,0.031,0.034,0.038,0.043],[0,0.9,1.0,0.98,0.55,0]),(11,[0.0,0.03,0.05,0.065,0.09,0.16],[0,0.1,0.27,0.18,0.07,0])]
c_row10 = [(0,[0.032,0.036,0.042,0.05,0.055,0.06],[0,0.45,0.58,0.38,0.25,0]),(11,[-0.02,0.02,0.035,0.05,0.09,0.2],[0,0.1,0.32,0.12,0.05,0])]
c_row11 = [(0,[0.26,0.275,0.29,0.31,0.35],[0,0.13,0.17,0.09,0]),(11,[0.19,0.28,0.35],[0,0.05,0])]

# ---------- (d) refined ridges ----------
d_breaks = [
    [0.073,0.123,0.166,0.547,0.823,1.028],
    [0.096,0.146,0.182,0.523,0.606,0.859,1.03],
    [0.183,0.198,0.684,0.797,1.048],
    [0.253,0.289,0.896,1.085],
    [0.144,0.229,0.30,0.83,1.092],
    [0.148,0.285,0.311,1.126],
    [0.108,0.187,0.29,0.363,1.108],
    [0.042,0.213,0.358,0.944,1.112],
    [0.008,0.156,0.322,1.025,1.092],
    [-0.054,0.022,0.115,0.90,1.10,1.134],
    [-0.028,-0.007,0.063,1.023,1.114],
    [0.024,0.037,0.078,0.218,1.03,1.056,1.151],
]
d_hues = [
    [4,7,11,2,0],
    [4,7,11,6,2,0],
    [7,9,3,1],
    [4,9,10],
    [3,5,11,9],
    [4,7,11],
    [4,6,7,11],
    [4,8,10,9],
    [4,6,11,9],
    [5,7,11,8],
    [7,9,11,8],
    [1,7,6,11,8,7],
]
d_row0 = [(0,[0.82,0.85,0.868,0.885,0.9,0.92,0.94,0.96,1.0,1.03],[0,0.05,0.22,0.46,0.48,0.38,0.26,0.07,0.04,0]),(2,[0.38,0.46,0.52,0.56,0.62,0.72,0.82],[0,0.07,0.13,0.16,0.1,0.04,0.02]),(4,[0.1,0.15,0.19,0.23,0.27],[0,0.08,0.26,0.28,0]),(5,[0.11,0.17,0.2,0.22,0.26,0.31],[0,0.12,0.38,0.47,0.24,0]),(7,[0.13,0.18,0.205,0.218,0.26,0.33],[0,0.15,0.42,0.49,0.32,0]),(9,[0.15,0.21,0.24,0.27,0.33,0.38],[0,0.2,0.32,0.3,0.2,0]),(11,[0.15,0.2,0.25,0.28,0.306,0.35,0.39,0.45,0.55],[0,0.08,0.2,0.29,0.33,0.29,0.14,0.05,0])]
d_row1 = [(0,[0.855,0.89,0.92,0.95,0.97,0.99,1.0,1.03],[0,0.14,0.28,0.38,0.3,0.14,0.06,0]),(2,[0.41,0.48,0.55,0.6,0.65,0.72,0.87],[0,0.05,0.13,0.16,0.13,0.06,0]),(5,[0.13,0.19,0.22,0.25,0.3,0.35],[0,0.1,0.25,0.33,0.2,0]),(7,[0.15,0.2,0.25,0.28,0.33,0.38],[0,0.12,0.34,0.34,0.17,0]),(9,[0.17,0.24,0.3,0.36,0.43],[0,0.18,0.32,0.18,0]),(11,[0.17,0.22,0.28,0.33,0.37,0.42,0.47,0.53],[0,0.05,0.12,0.22,0.25,0.2,0.08,0])]
d_row2 = [(0,[0.68,0.76,0.8,0.83,0.85,0.88,0.92,0.98,1.05],[0,0.04,0.14,0.27,0.3,0.24,0.12,0.04,0]),(2,[0.45,0.49,0.55,0.62,0.7],[0,0.2,0.14,0.07,0]),(6,[0.21,0.27,0.31,0.34,0.39,0.44],[0,0.12,0.24,0.28,0.17,0]),(8,[0.23,0.3,0.36,0.42,0.48],[0,0.14,0.22,0.16,0]),(11,[0.2,0.28,0.36,0.42,0.45,0.49,0.55,0.68],[0,0.05,0.13,0.23,0.26,0.2,0.07,0])]
d_row3 = [(0,[0.66,0.71,0.735,0.76,0.79,0.82,0.87,0.92],[0,0.08,0.25,0.36,0.32,0.18,0.04,0]),(2,[0.38,0.44,0.47,0.5,0.56],[0,0.2,0.28,0.2,0]),(5,[0.29,0.37,0.42,0.47,0.51],[0,0.08,0.24,0.15,0]),(8,[0.29,0.4,0.48,0.55,0.61],[0,0.13,0.16,0.12,0]),(11,[0.33,0.42,0.52,0.6,0.67,0.73],[0,0.07,0.16,0.16,0.08,0])]
d_row4 = [(0,[0.42,0.44,0.455,0.475,0.485,0.498,0.51],[0,0.2,0.44,0.5,0.47,0.2,0]),(2,[0.19,0.24,0.265,0.28,0.31,0.36,0.42],[0,0.1,0.27,0.34,0.25,0.15,0]),(4,[0.21,0.28,0.34,0.43],[0,0.24,0.22,0]),(6,[0.23,0.3,0.37,0.45,0.51],[0,0.15,0.23,0.13,0]),(8,[0.27,0.35,0.43,0.5],[0,0.12,0.2,0]),(11,[0.3,0.38,0.47,0.58,0.66,0.76],[0,0.08,0.18,0.17,0.1,0])]
d_row5 = [(0,[0.345,0.365,0.385,0.405,0.42,0.435,0.45],[0,0.12,0.38,0.47,0.4,0.18,0]),(2,[0.17,0.22,0.25,0.28,0.32,0.38],[0,0.08,0.2,0.28,0.16,0]),(5,[0.19,0.29,0.38,0.45,0.53],[0,0.17,0.14,0.13,0]),(8,[0.29,0.4,0.5,0.59],[0,0.09,0.14,0]),(11,[0.33,0.45,0.58,0.65,0.8,0.92],[0,0.05,0.13,0.16,0.08,0])]
d_row6 = [(0,[0.36,0.38,0.39,0.405,0.42,0.43,0.445],[0,0.2,0.45,0.62,0.45,0.3,0.05]),(3,[0.12,0.2,0.25,0.3,0.38],[0,0.1,0.23,0.15,0]),(6,[0.15,0.3,0.38,0.43],[0,0.11,0.11,0]),(8,[0.29,0.4,0.5,0.6,0.72],[0,0.08,0.16,0.15,0]),(11,[0.35,0.45,0.55,0.65,0.75,0.85,0.98],[0,0.05,0.12,0.15,0.14,0.06,0])]
d_row7 = [(0,[0.255,0.27,0.28,0.295,0.31,0.32,0.335],[0,0.15,0.42,0.68,0.58,0.42,0]),(2,[0.08,0.15,0.18,0.2,0.23,0.3],[0,0.11,0.25,0.3,0.17,0]),(4,[0.06,0.17,0.26,0.33],[0,0.12,0.09,0]),(6,[0.29,0.38,0.47,0.57],[0,0.09,0.18,0]),(8,[0.34,0.45,0.55,0.64],[0,0.13,0.18,0]),(11,[0.36,0.48,0.58,0.68,0.78,0.9],[0,0.08,0.14,0.18,0.1,0])]
d_row8 = [(0,[0.265,0.28,0.29,0.298,0.305,0.312,0.32,0.33],[0,0.2,0.55,0.9,1.0,0.9,0.55,0.05]),(1,[0.07,0.13,0.16,0.18,0.21,0.27],[0,0.1,0.23,0.29,0.2,0]),(4,[0.03,0.16,0.25],[0,0.11,0]),(7,[0.3,0.45,0.58,0.67],[0,0.06,0.11,0]),(11,[0.44,0.6,0.7,0.74,0.78,0.88],[0,0.08,0.15,0.16,0.1,0])]
d_row9 = [(0,[0.185,0.2,0.21,0.222,0.235,0.245,0.252],[0,0.3,0.65,0.83,0.66,0.35,0.05]),(1,[0.0,0.05,0.085,0.105,0.135,0.2],[0,0.12,0.33,0.4,0.28,0]),(3,[-0.01,0.06,0.11,0.17],[0,0.22,0.27,0]),(6,[0.0,0.1,0.2,0.31],[0,0.11,0.09,0]),(8,[0.09,0.25,0.35,0.46],[0,0.07,0.12,0]),(11,[0.2,0.35,0.5,0.6,0.75,0.9],[0,0.07,0.1,0.1,0.05,0])]
d_row10 = [(0,[0.13,0.135,0.14,0.147,0.155,0.165,0.178],[0,0.5,0.92,1.0,0.92,0.5,0.05]),(3,[0.01,0.025,0.044,0.06,0.09,0.13],[0,0.22,0.67,0.42,0.3,0]),(5,[0.01,0.03,0.07,0.11,0.16],[0,0.28,0.38,0.22,0]),(7,[0.02,0.09,0.15,0.23],[0,0.22,0.17,0]),(9,[0.05,0.15,0.25,0.34],[0,0.11,0.18,0]),(11,[0.1,0.22,0.3,0.4,0.55,0.7],[0,0.1,0.15,0.12,0.05,0])]
d_row11 = [(0,[0.27,0.3,0.325,0.342,0.36,0.38,0.4],[0,0.1,0.33,0.4,0.33,0.15,0]),(3,[0.05,0.1,0.13,0.17,0.21,0.25],[0,0.22,0.3,0.29,0.22,0]),(5,[0.07,0.15,0.22,0.29],[0,0.27,0.24,0]),(7,[0.09,0.2,0.29],[0,0.11,0]),(10,[0.3,0.45,0.55,0.61],[0,0.1,0.1,0]),(11,[0.35,0.48,0.58,0.65,0.75,0.85,1.0],[0,0.05,0.12,0.15,0.13,0.07,0])]

ridge_palette = ["#0e0a2a","#231250","#47106f","#5f1b7b","#842681","#a3307e","#c43c75","#e44d6b","#f7695c","#fd9162","#feb37b","#fed89a"]
scatter_legend = [0,2,4,6,8,10]
position_labels = [str(i) for i in range(12)]
x_ticks_c = [-0.2,0.0,0.2,0.4,0.6,0.8,1.0,1.2]
x_ticks_d = [0.0,0.2,0.4,0.6,0.8,1.0,1.2]

W, H = 1032, 899
fig = plt.figure(figsize=(W/100, H/100), dpi=100)
GRID = "#cccccc"
TXT = "#262626"
cmap = plt.get_cmap("magma")

def box(l, t, r, b):
    return [l/W, 1-b/H, (r-l)/W, (b-t)/H]

def scatter_panel(rect, xlim, ylim, xt, yt, groups, loc, anchor):
    ax = fig.add_axes(box(*rect))
    for h, pts in enumerate(groups):
        ax.scatter([p[0] for p in pts], [p[1] for p in pts], s=24, c=[h]*len(pts),
                   cmap="magma", vmin=0, vmax=11, linewidths=0, zorder=2+h*0.01)
    ax.set_xlim(*xlim); ax.set_ylim(*ylim)
    ax.set_xticks(xt); ax.set_yticks(yt)
    ax.grid(True, color=GRID, lw=1.0); ax.set_axisbelow(True)
    ax.tick_params(length=0, labelsize=9, colors=TXT, pad=5)
    for s in ax.spines.values():
        s.set_visible(False)
    ax.set_xlabel("x", fontsize=9, color=TXT, labelpad=4)
    ax.set_ylabel("y", fontsize=9, color=TXT, labelpad=3)
    hs = [Line2D([], [], ls="", marker="o", ms=5, mfc=cmap(v/11), mec=cmap(v/11)) for v in scatter_legend]
    leg = ax.legend(hs, [str(v) for v in scatter_legend], loc=loc, bbox_to_anchor=anchor, fontsize=9,
                    frameon=True, framealpha=1, edgecolor=GRID, labelspacing=0.24, borderaxespad=0,
                    handlelength=1.6, handletextpad=0.8, borderpad=0.4, labelcolor=TXT)
    leg.get_frame().set_linewidth(0.8)
    return ax

scatter_panel((60,4,450,390),(8.63,17.98),(2.9,12.93),[10,12,14,16],[4,6,8,10,12],
              [a_h0,a_h1,a_h2,a_h3,a_h4,a_h5,a_h6,a_h7,a_h8,a_h9,a_h10,a_h11],
              "lower right",(0.982,0.0155))
scatter_panel((588,4,978,390),(-5.76,17.18),(1.16,9.06),[-5,0,5,10,15],[2,3,4,5,6,7,8,9],
              [b_h0,b_h1,b_h2,b_h3,b_h4,b_h5,b_h6,b_h7,b_h8,b_h9,b_h10,b_h11],
              "upper right",(0.984,0.984))

def ridge_panel(left, right, xlim, ticks, rows, breaks, hues, lab_x):
    for i in range(12):
        yb = 520 + i*26.36
        ax = fig.add_axes(box(left, yb-21, right, yb+0.5))
        ax.patch.set_alpha(0)
        ax.set_xlim(*xlim); ax.set_ylim(0, 21.5/21)
        ax.set_yticks([]); ax.set_xticks(ticks)
        ax.grid(True, axis="x", color=GRID, lw=1.0); ax.set_axisbelow(True)
        for s in ax.spines.values():
            s.set_visible(False)
        for hue, xs, hs in rows[i]:
            ax.fill_between(xs, 0, hs, color=ridge_palette[hue], lw=0, zorder=3, clip_on=False)
        br, hu = breaks[i], hues[i]
        for k, hue in enumerate(hu):
            ax.plot([br[k], br[k+1]], [0.02, 0.02], color=ridge_palette[hue], lw=1.5,
                    solid_capstyle="butt", zorder=4, clip_on=False)
        if i == 11:
            ax.tick_params(axis="x", length=0, labelsize=8, colors=TXT, pad=5)
            ax.set_xticklabels([f"{t:.1f}".replace("-", "\u2212") for t in ticks])
            ax.set_xlabel("Normalized L2 Norm", fontsize=12.1, color=TXT, labelpad=3)
        else:
            ax.tick_params(axis="x", length=0, labelbottom=False)
    handles = [Patch(facecolor=c, edgecolor="none") for c in ridge_palette]
    fig.legend(handles, position_labels, title="Position Index", loc="upper left",
               bbox_to_anchor=(lab_x/W, 1-558/H), frameon=False, fontsize=8.6, title_fontsize=8,
               handlelength=2.0, handleheight=0.75, labelspacing=0.32, handletextpad=0.7,
               labelcolor=TXT).get_title().set_color(TXT)

c_rows = [c_row0,c_row1,c_row2,c_row3,c_row4,c_row5,c_row6,c_row7,c_row8,c_row9,c_row10,c_row11]
d_rows = [d_row0,d_row1,d_row2,d_row3,d_row4,d_row5,d_row6,d_row7,d_row8,d_row9,d_row10,d_row11]
ridge_panel(10, 400, ((10-72.3)/268.6, (400-72.3)/268.6), x_ticks_c, c_rows, c_breaks, c_hues, 414)
ridge_panel(536, 948, ((536-556.3)/322.5, (948-556.3)/322.5), x_ticks_d, d_rows, d_breaks, d_hues, 942)

cap = dict(family="Liberation Serif", fontsize=17, color="black", ha="center", va="center")
fig.text(248/W, 1-473/H, "(a) Baseline", **cap)
fig.text(777/W, 1-473/H, "(b) Refined w. LayerShuffle", **cap)
fig.text(248/W, 1-883/H, "(c) Baseline", **cap)
fig.text(777/W, 1-883/H, "(d) Refined w. LayerShuffle", **cap)

fig.savefig("out.png", dpi=100)
